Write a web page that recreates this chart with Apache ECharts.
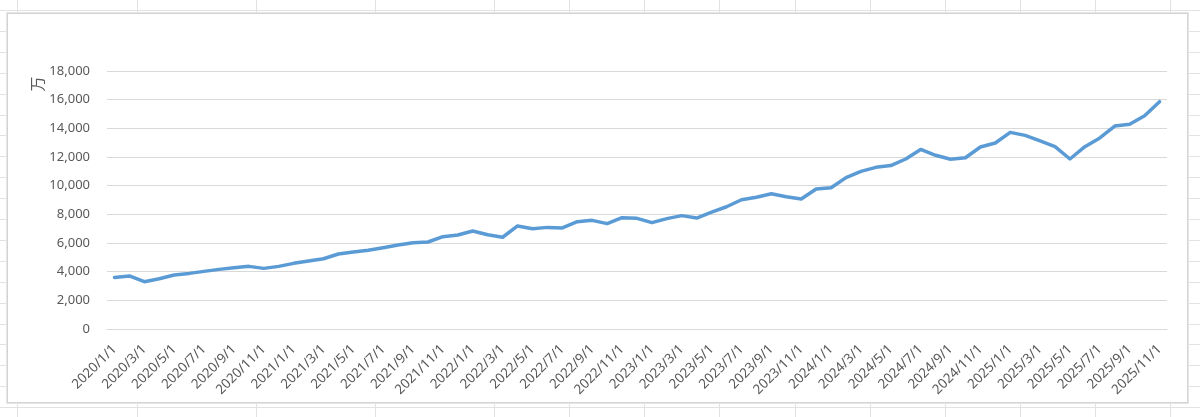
<!DOCTYPE html>
<html>
<head>
<meta charset="utf-8">
<script src="https://cdn.jsdelivr.net/npm/echarts@6/dist/echarts.min.js"></script>
<style>
  html, body { margin:0; padding:0; width:1200px; height:417px; overflow:hidden; background:#fff; }
  #sheet { position:absolute; left:0; top:0; width:1200px; height:417px; }
  .h { position:absolute; left:0; width:1200px; height:1px; background:#e2e2e2; }
  .v { position:absolute; top:0; width:1px; height:417px; background:#e2e2e2; }
  #frame { position:absolute; left:7px; top:13px; width:1179px; height:388px; background:#fff; border:1px solid #d4d4d4; box-shadow:0 0 0 1px #e6e6e6; }
  #chart { position:absolute; left:0; top:0; width:1200px; height:417px; }
</style>
</head>
<body>
<div id="sheet"></div>
<div id="frame"></div>
<div id="chart"></div>
<script>
// Data
const categories = (function(){
  const out = [];
  for (let y = 2020; y <= 2025; y++) {
    for (let m = 1; m <= 12; m++) {
      if (y === 2025 && m > 11) break;
      out.push(y + '/' + m + '/1');
    }
  }
  return out;
})();
const values = [
  3600, 3700, 3300, 3510, 3770, 3880, 4020, 4160, 4280, 4370, 4230, 4370,
  4580, 4740, 4900, 5230, 5370, 5490, 5670, 5860, 6020, 6070, 6440, 6560,
  6840, 6580, 6400, 7190, 7000, 7090, 7050, 7490, 7580, 7350, 7770, 7720,
  7420, 7700, 7910, 7740, 8160, 8530, 9020, 9190, 9440, 9230, 9070, 9770,
  9860, 10560, 11000, 11280, 11400, 11860, 12530, 12120, 11840, 11950, 12700, 12980,
  13720, 13510, 13120, 12720, 11860, 12720, 13330, 14160, 14280, 14880, 15860
];
const yMin = 0, yMax = 18000, yStep = 2000;
const axisTitle = '万';

// spreadsheet background lines
const sheet = document.getElementById('sheet');
for (let i = 0; i < 20; i++) {
  const d = document.createElement('div');
  d.className = 'h';
  d.style.top = Math.round(10 + i * 20.9) + 'px';
  sheet.appendChild(d);
}
[17,137,256,375,494,569,644,719,795,870,945,1020,1095,1170].forEach(x => {
  const d = document.createElement('div');
  d.className = 'v';
  d.style.left = x + 'px';
  sheet.appendChild(d);
});

const chart = echarts.init(document.getElementById('chart'), null, {renderer:'canvas'});
chart.setOption({
  backgroundColor: 'transparent',
  animation: false,
  grid: { left: 107, right: 33, top: 71, bottom: 88, containLabel: false },
  xAxis: {
    type: 'category',
    data: categories,
    boundaryGap: true,
    axisLine: { show: true, lineStyle: { color: '#d9d9d9', width: 1 } },
    axisTick: { show: false },
    axisLabel: {
      interval: 1,
      rotate: 45,
      margin: 18,
      padding: [20, 0, 0, 0],
      color: '#595959',
      fontSize: 13.5,
      fontFamily: 'Noto Sans'
    },
    splitLine: { show: false }
  },
  yAxis: {
    type: 'value',
    min: yMin, max: yMax, interval: yStep,
    axisLine: { show: false },
    axisTick: { show: false },
    axisLabel: {
      margin: 17,
      color: '#595959',
      fontSize: 13,
      fontFamily: 'Noto Sans',
      formatter: v => v.toLocaleString('en-US')
    },
    splitLine: { show: true, lineStyle: { color: '#d9d9d9', width: 1 } }
  },
  graphic: [{
    type: 'text',
    x: 37, y: 84,
    rotation: Math.PI / 2,
    style: { text: axisTitle, fill: '#595959', font: '15px "Noto Sans CJK SC"', align: 'center', verticalAlign: 'middle' }
  }],
  series: [{
    type: 'line',
    data: values,
    showSymbol: false,
    smooth: false,
    lineStyle: { color: '#5B9BD5', width: 3.5, cap: 'round', join: 'round' },
    itemStyle: { color: '#5B9BD5' }
  }]
});
</script>
</body>
</html>
